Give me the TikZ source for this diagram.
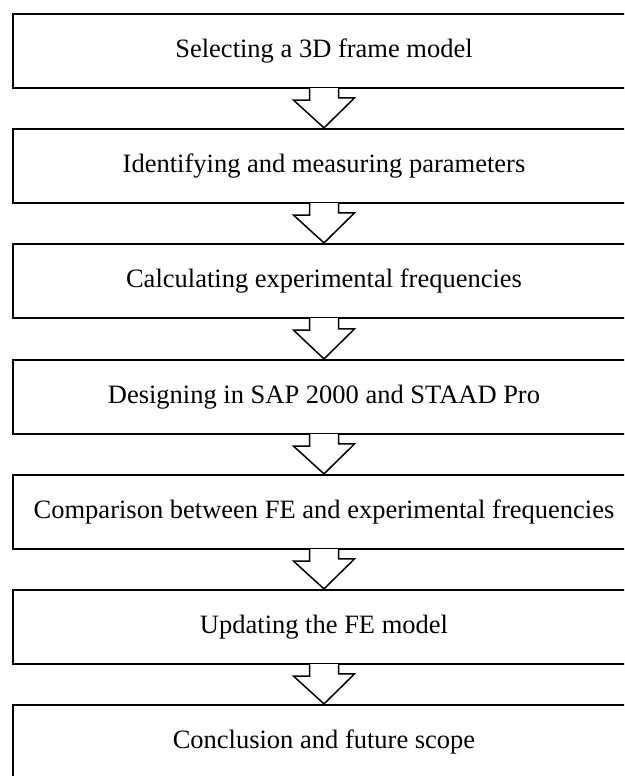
\documentclass[tikz,border=0pt]{standalone}
\usepackage{fontspec}
\setmainfont{Liberation Serif}
\usepackage{tikz}
\usetikzlibrary{calc}

\tikzset{
    stage/.style={draw, rectangle, line width=2.2pt, minimum width=622pt, minimum height=74pt, inner sep=0pt, font=\fontsize{26.5}{30}\selectfont},
    blockarrow/.style={draw, fill=white, line width=1.5pt, line join=miter}
}

\begin{document}
\begin{tikzpicture}[x=1pt, y=-1pt]
        \clip (0,0) rectangle (624,776);

        % Stages
        \node[stage] (s1) at (324,51) {Selecting a 3D frame model};
        \node[stage] (s2) at (324,166) {Identifying and measuring parameters};
        \node[stage] (s3) at (324,281) {Calculating experimental frequencies};
        \node[stage] (s4) at (324,397) {Designing in SAP 2000 and STAAD Pro};
        \node[stage] (s5) at (324,512) {Comparison between FE and experimental frequencies};
        \node[stage] (s6) at (324,627) {Updating the FE model};
        \node[stage] (s7) at (324,742) {Conclusion and future scope};

        % Block arrows
        \foreach \i/\j in {1/2, 2/3, 3/4, 4/5, 5/6, 6/7} {
            \draw[blockarrow] ($(s\i.south)+(-14.5,-1)$) -- ++(0,12) -- ++(-16,0)
                -- (s\j.north) -- ++(30.5,-30) -- ++(-16,0) -- ($(s\i.south)+(14.5,-1)$);
        }
    \end{tikzpicture}
\end{document}
